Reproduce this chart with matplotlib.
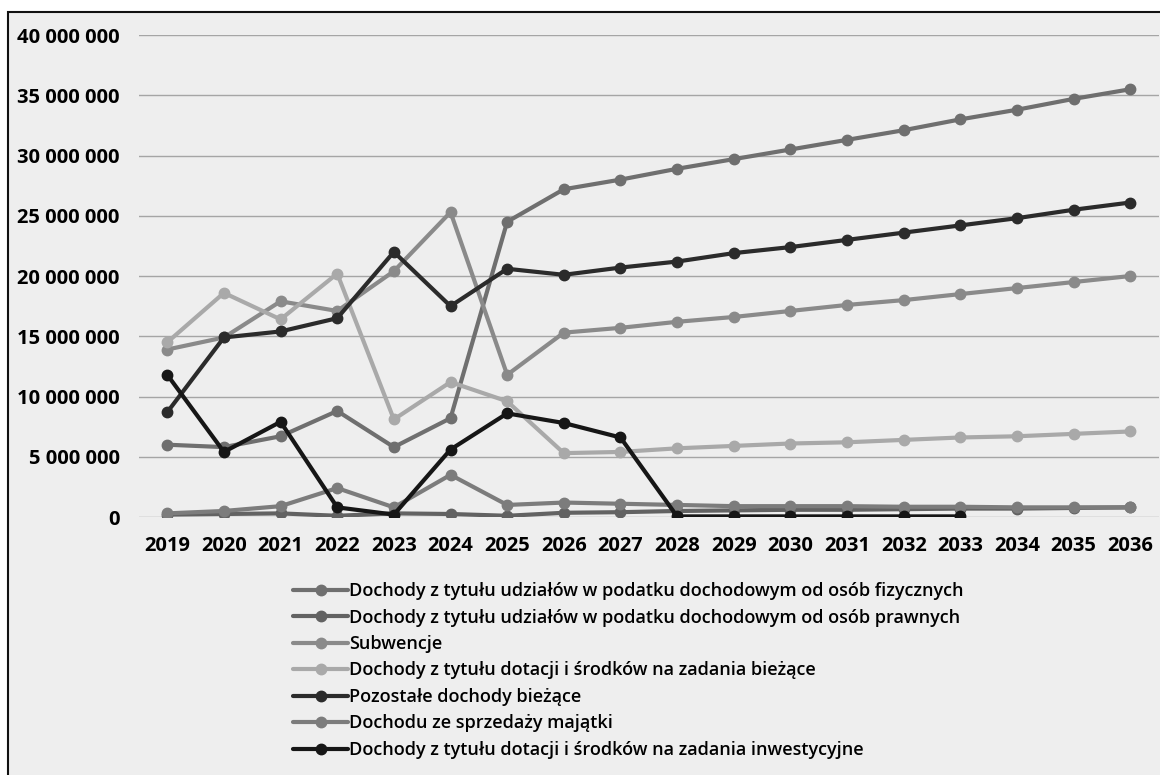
import matplotlib
matplotlib.use("Agg")
import matplotlib.pyplot as plt
from matplotlib.patches import Rectangle
from matplotlib.ticker import FuncFormatter

years = [str(y) for y in range(2019, 2037)]

pit = [6.0, 5.8, 6.7, 8.8, 5.8, 8.2, 24.5, 27.2, 28.0, 28.9, 29.7, 30.5, 31.3, 32.1, 33.0, 33.8, 34.7, 35.5]
cit = [0.2, 0.25, 0.3, 0.1, 0.3, 0.25, 0.1, 0.35, 0.4, 0.5, 0.55, 0.6, 0.6, 0.65, 0.7, 0.7, 0.75, 0.8]
subwencje = [13.9, 14.9, 17.9, 17.1, 20.4, 25.3, 11.8, 15.3, 15.7, 16.2, 16.6, 17.1, 17.6, 18.0, 18.5, 19.0, 19.5, 20.0]
dotacje_biezace = [14.5, 18.6, 16.4, 20.2, 8.1, 11.2, 9.6, 5.3, 5.4, 5.7, 5.9, 6.1, 6.2, 6.4, 6.6, 6.7, 6.9, 7.1]
pozostale = [8.7, 14.9, 15.4, 16.5, 22.0, 17.5, 20.6, 20.1, 20.7, 21.2, 21.9, 22.4, 23.0, 23.6, 24.2, 24.8, 25.5, 26.1]
sprzedaz = [0.3, 0.5, 0.9, 2.4, 0.8, 3.5, 1.0, 1.2, 1.1, 1.0, 0.9, 0.9, 0.9, 0.85, 0.85, 0.8, 0.8, 0.8]
dotacje_inwest = [11.8, 5.4, 7.9, 0.8, 0.2, 5.6, 8.6, 7.8, 6.6, 0.05, 0.05, 0.05, 0.05, 0.05, 0.05]

labels = [
    "Dochody z tytułu udziałów w podatku dochodowym od osób fizycznych",
    "Dochody z tytułu udziałów w podatku dochodowym od osób prawnych",
    "Subwencje",
    "Dochody z tytułu dotacji i środków na zadania bieżące",
    "Pozostałe dochody bieżące",
    "Dochodu ze sprzedaży majątki",
    "Dochody z tytułu dotacji i środków na zadania inwestycyjne",
]
series = [pit, cit, subwencje, dotacje_biezace, pozostale, sprzedaz, dotacje_inwest]
colors = ["#6f6f6f", "#626262", "#8a8a8a", "#a9a9a9", "#2b2b2b", "#7c7c7c", "#161616"]

plt.rcParams['font.family'] = ['Open Sans', 'DejaVu Sans']

fig = plt.figure(figsize=(11.6, 7.75), dpi=100)
fig.patch.set_facecolor("white")
fig.add_artist(Rectangle((0.007, -0.02), 1.0, 1.0045, transform=fig.transFigure,
                         facecolor="#eeeeee", edgecolor="#111111", linewidth=1.5, zorder=-10))

ax = fig.add_axes([0.1198, 0.3329, 0.879, 0.6219])
ax.set_facecolor("none")

lines = []
for vals, c, lab in zip(series, colors, labels):
    x = list(range(len(vals)))
    y = [v * 1e6 for v in vals]
    ln, = ax.plot(x, y, color=c, lw=3.0, marker="o", markersize=7.5, label=lab,
                  solid_capstyle="round")
    lines.append(ln)

ax.set_xlim(-0.5, len(years) - 0.5)
ax.set_ylim(0, 40e6)
ax.set_yticks([i * 5e6 for i in range(9)])
ax.yaxis.set_major_formatter(FuncFormatter(lambda v, p: f"{int(v):,}".replace(",", " ")))
ax.set_xticks(range(len(years)))
ax.set_xticklabels(years)
ax.grid(axis="y", color="#a5a5a5", lw=1.0)
ax.set_axisbelow(True)
for s in ax.spines.values():
    s.set_visible(False)
ax.tick_params(axis="both", length=0, labelsize=14.5)
ax.tick_params(axis="x", pad=14)
ax.tick_params(axis="y", pad=14)
for t in ax.get_xticklabels() + ax.get_yticklabels():
    t.set_fontweight("bold")

leg = fig.legend(handles=lines, labels=labels, loc="upper left",
                 bbox_to_anchor=(0.253, 0.249), frameon=False, fontsize=13,
                 handlelength=3.0, handletextpad=0.1, labelspacing=0.47,
                 borderaxespad=0, borderpad=0)
for t in leg.get_texts():
    t.set_fontweight("semibold")

fig.savefig("out.png", dpi=100, facecolor=fig.get_facecolor())
